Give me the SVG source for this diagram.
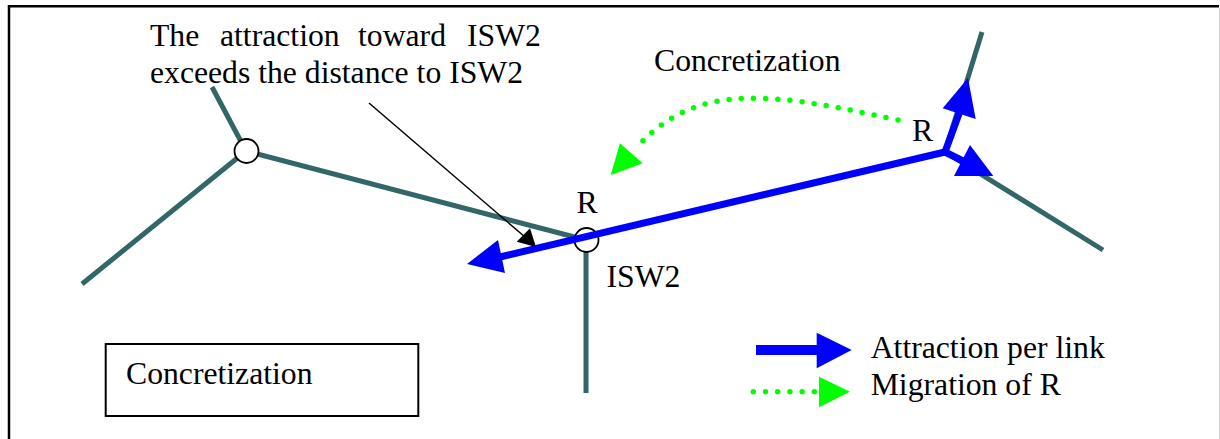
<svg xmlns="http://www.w3.org/2000/svg" width="1220" height="439" viewBox="0 0 1220 439">
<style>
text{font-family:"Liberation Serif","Times New Roman",serif;font-size:31.7px;fill:#000}
.link{stroke:#336666;stroke-width:5;fill:none}
.attr{stroke:#0000ff;stroke-width:7;fill:none}
.blue{fill:#0000ff}
.green{fill:#00ff00}
.mig{stroke:#00ff00;stroke-width:5.5;stroke-linecap:round;stroke-dasharray:0 12.2;fill:none}
.node{fill:#fff;stroke:#000;stroke-width:1.8}
</style>
<rect width="1220" height="439" fill="#fff"/>
<path d="M1219 6.3H9V439" fill="none" stroke="#000" stroke-width="2.5"/>
<line x1="1219.5" y1="8" x2="1219.5" y2="439" stroke="#d0d0d0" stroke-width="1"/>
<g id="links">
<line class="link" x1="212" y1="87" x2="246" y2="151"/>
<line class="link" x1="82" y1="284" x2="246" y2="151"/>
<line class="link" x1="246" y1="151" x2="586" y2="240"/>
<line class="link" x1="586" y1="240" x2="586" y2="393"/>
<line class="link" x1="945" y1="152" x2="982" y2="32"/>
<line class="link" x1="945" y1="152" x2="1103" y2="250"/>
</g>
<g id="node-left"><circle class="node" cx="246.5" cy="151" r="12"/></g>
<g id="node-isw2"><circle class="node" cx="586.5" cy="240" r="12"/>
<text x="576.5" y="212.5">R</text>
<text x="606.5" y="286.5">ISW2</text></g>
<g id="node-right"><text x="912" y="140.5">R</text></g>
<g id="connectors">
<line class="attr" x1="945" y1="152" x2="500" y2="257"/>
<polygon class="blue" points="467,264 498,240 505,273"/>
<line class="attr" x1="945" y1="152" x2="960" y2="111"/>
<polygon class="blue" points="968,78 942.7,108.3 975.7,119"/>
<line class="attr" x1="945" y1="152" x2="963" y2="161"/>
<polygon class="blue" points="993.3,176 970,145 954,176"/>
<path class="mig" d="M898,120 C780,95 700,78 637,147"/>
<polygon class="green" points="610.7,175 620,143.3 642.7,163.3"/>
<line x1="369" y1="103" x2="525" y2="237" stroke="#000" stroke-width="1.5"/>
<polygon points="536,247 516.7,241.7 530,228.3" fill="#000"/>
</g>
<g id="annotation">
<text y="46"><tspan x="150">The</tspan><tspan x="220">attraction</tspan><tspan x="358">toward</tspan><tspan x="467">ISW2</tspan></text>
<text x="150" y="82.7">exceeds the distance to ISW2</text>
</g>
<g id="label-concretization"><text x="654" y="70.7">Concretization</text></g>
<g id="box-concretization">
<rect x="105.7" y="344" width="312.6" height="72" fill="#fff" stroke="#000" stroke-width="2"/>
<text x="126" y="384.3">Concretization</text>
</g>
<g id="legend">
<line x1="756" y1="350" x2="818" y2="350" stroke="#0000ff" stroke-width="10"/>
<polygon class="blue" points="851.7,350 816.7,332.7 816.7,368.3"/>
<text x="870.7" y="358.3">Attraction per link</text>
<line class="mig" x1="753.3" y1="391.7" x2="818" y2="391.7"/>
<polygon class="green" points="850,391.7 819,376.7 819,407.3"/>
<text x="870.7" y="395">Migration of R</text>
</g>
</svg>
